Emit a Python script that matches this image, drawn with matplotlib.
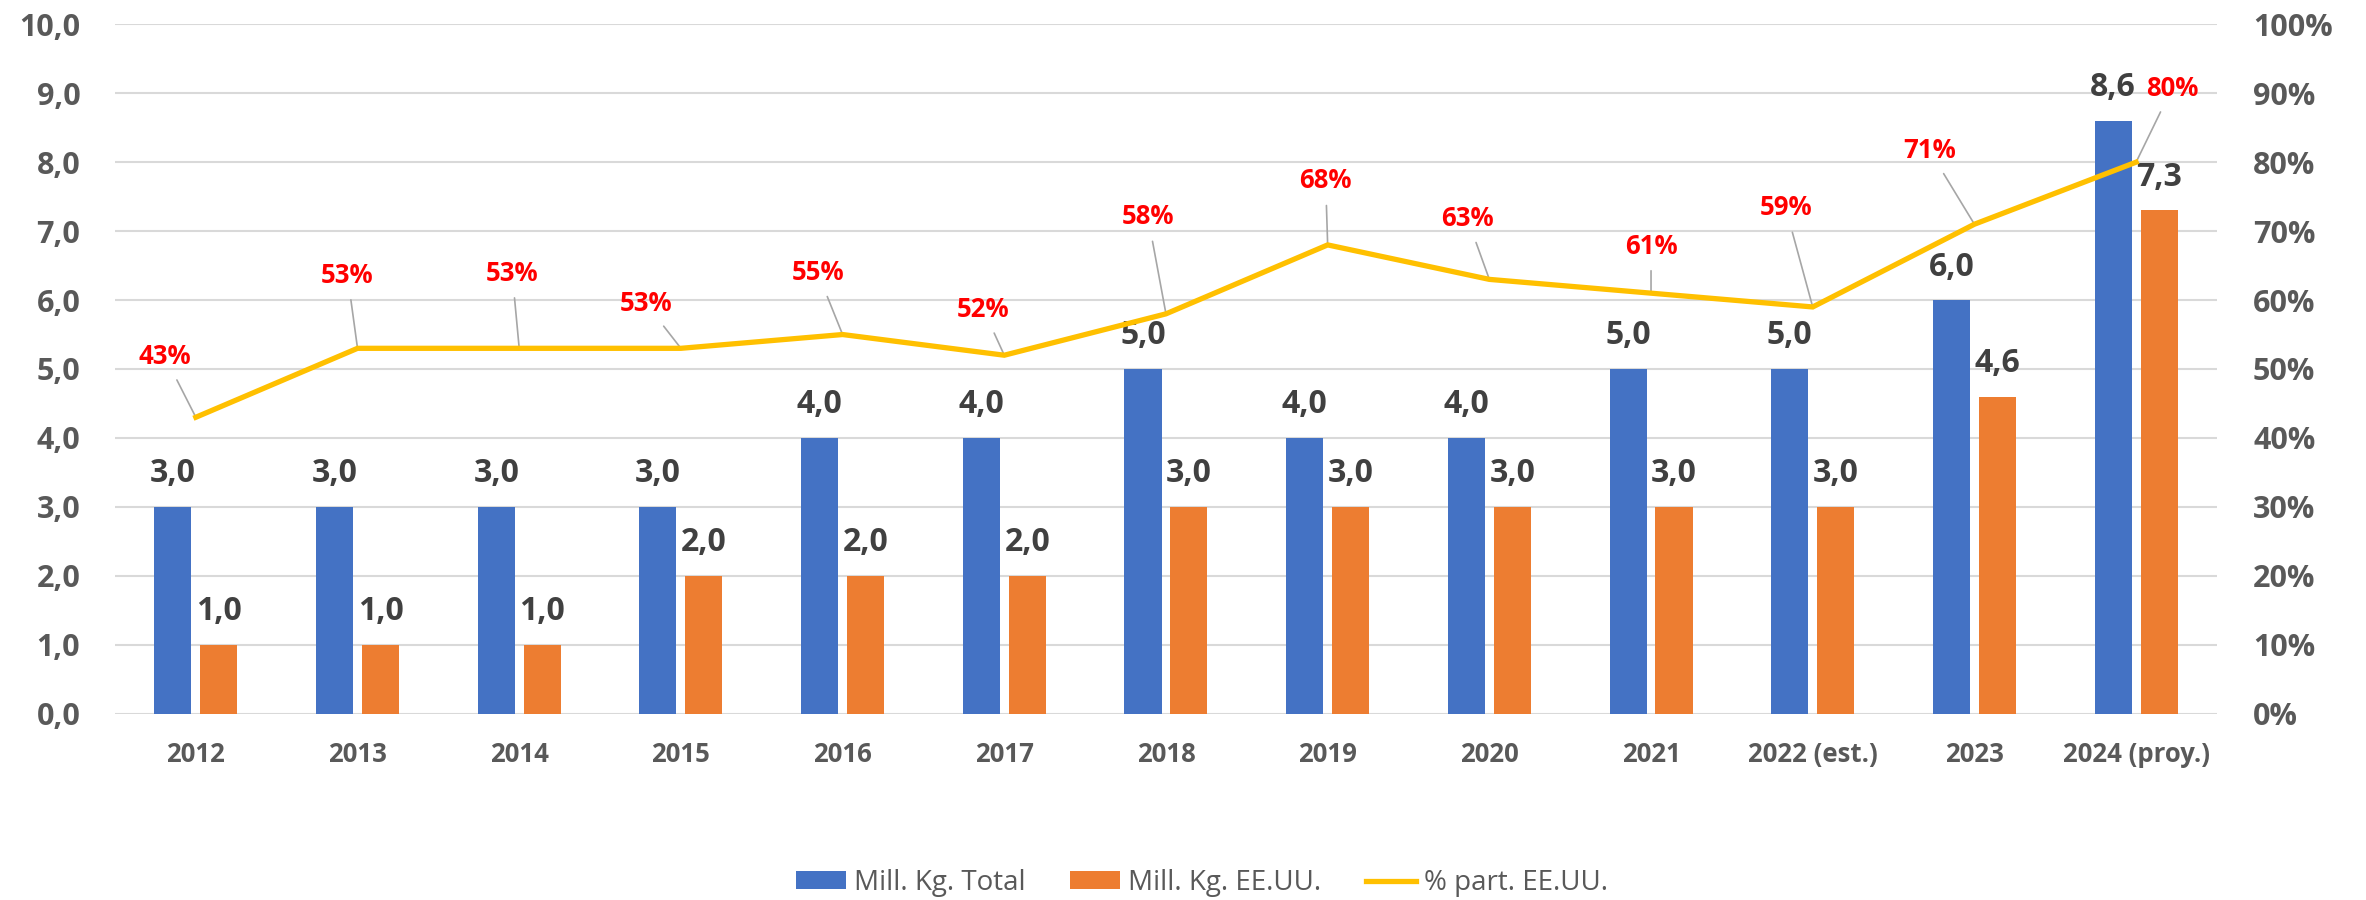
import matplotlib.pyplot as plt
import numpy as np
from matplotlib.ticker import FuncFormatter

# data
years = ["2012", "2013", "2014", "2015", "2016", "2017", "2018", "2019",
         "2020", "2021", "2022 (est.)", "2023", "2024 (proy.)"]
total_kg = [3.0, 3.0, 3.0, 3.0, 4.0, 4.0, 5.0, 4.0, 4.0, 5.0, 5.0, 6.0, 8.6]
usa_kg = [1.0, 1.0, 1.0, 2.0, 2.0, 2.0, 3.0, 3.0, 3.0, 3.0, 3.0, 4.6, 7.3]
usa_share = [0.43, 0.53, 0.53, 0.53, 0.55, 0.52, 0.58, 0.68, 0.63, 0.61, 0.59, 0.71, 0.80]

# where each % label sits relative to its point (pixels, x right / y up)
pct_offsets = [(-31, 61), (-10, 73), (-7, 75), (-35, 45), (-25, 62), (-21, 46),
               (-18, 97), (-2, 64), (-22, 61), (0, 47), (-27, 99), (-45, 74), (36, 74)]

BLUE = "#4472C4"
ORANGE = "#ED7D31"
GOLD = "#FFC000"
GRID = "#D9D9D9"
TICK = "#595959"
LABEL = "#404040"


def comma(v):
    return f"{v:.1f}".replace(".", ",")


def main():
    plt.rcParams["font.family"] = ["Open Sans", "DejaVu Sans"]

    fig = plt.figure(figsize=(23.66, 9), dpi=100)
    ax = fig.add_axes([0.0486, 0.207, 0.8884, 0.766])
    x = np.arange(len(years))
    w = 0.229
    off = 0.142

    b1 = ax.bar(x - off, total_kg, w, color=BLUE, label="Mill. Kg. Total", zorder=2)
    b2 = ax.bar(x + off, usa_kg, w, color=ORANGE, label="Mill. Kg. EE.UU.", zorder=2)

    for bars, vals in ((b1, total_kg), (b2, usa_kg)):
        for rect, v in zip(bars, vals):
            ax.annotate(comma(v), (rect.get_x() + rect.get_width() / 2, v),
                        xytext=(0, 33), textcoords="offset pixels",
                        ha="center", va="center", fontsize=23,
                        fontweight="bold", color=LABEL, zorder=3)

    ax.set_ylim(0, 10)
    ax.set_xlim(-0.5, len(years) - 0.5)
    ax.set_yticks(np.arange(0, 10.1, 1))
    ax.yaxis.set_major_formatter(FuncFormatter(lambda v, p: comma(v)))
    ax.set_xticks(x)
    ax.set_xticklabels(years)
    ax.grid(axis="y", color=GRID, linewidth=1.5, zorder=0)
    ax.set_axisbelow(True)
    for s in ax.spines.values():
        s.set_visible(False)
    ax.tick_params(axis="y", length=0, pad=25, labelsize=22, labelcolor=TICK)
    ax.tick_params(axis="x", length=0, pad=20, labelsize=18.5, labelcolor=TICK)
    for t in ax.get_xticklabels() + ax.get_yticklabels():
        t.set_fontweight("bold")

    ax2 = ax.twinx()
    ln, = ax2.plot(x, usa_share, color=GOLD, linewidth=3.8, label="% part. EE.UU.",
                   solid_joinstyle="miter", zorder=4)
    ax2.set_ylim(0, 1)
    ax2.set_yticks(np.arange(0, 1.01, 0.1))
    ax2.yaxis.set_major_formatter(FuncFormatter(lambda v, p: f"{v:.0%}"))
    for s in ax2.spines.values():
        s.set_visible(False)
    ax2.tick_params(axis="y", length=0, pad=26, labelsize=22, labelcolor=TICK)
    for t in ax2.get_yticklabels():
        t.set_fontweight("bold")

    for i, (v, (dx, dy)) in enumerate(zip(usa_share, pct_offsets)):
        ax2.annotate(f"{v:.0%}", (i, v), xytext=(dx, dy), textcoords="offset pixels",
                     ha="center", va="center", fontsize=18.5, fontweight="bold",
                     color="#FF0000",
                     arrowprops=dict(arrowstyle="-", color="#A6A6A6", lw=1.2,
                                     shrinkA=6, shrinkB=0))

    fig.legend(handles=[b1, b2, ln], loc="center", bbox_to_anchor=(0.508, 0.019),
               ncol=3, frameon=False, fontsize=20, labelcolor=TICK,
               handlelength=1.8, handleheight=0.6, handletextpad=0.3,
               columnspacing=1.6)

    fig.savefig("out.png", dpi=100)


main()
